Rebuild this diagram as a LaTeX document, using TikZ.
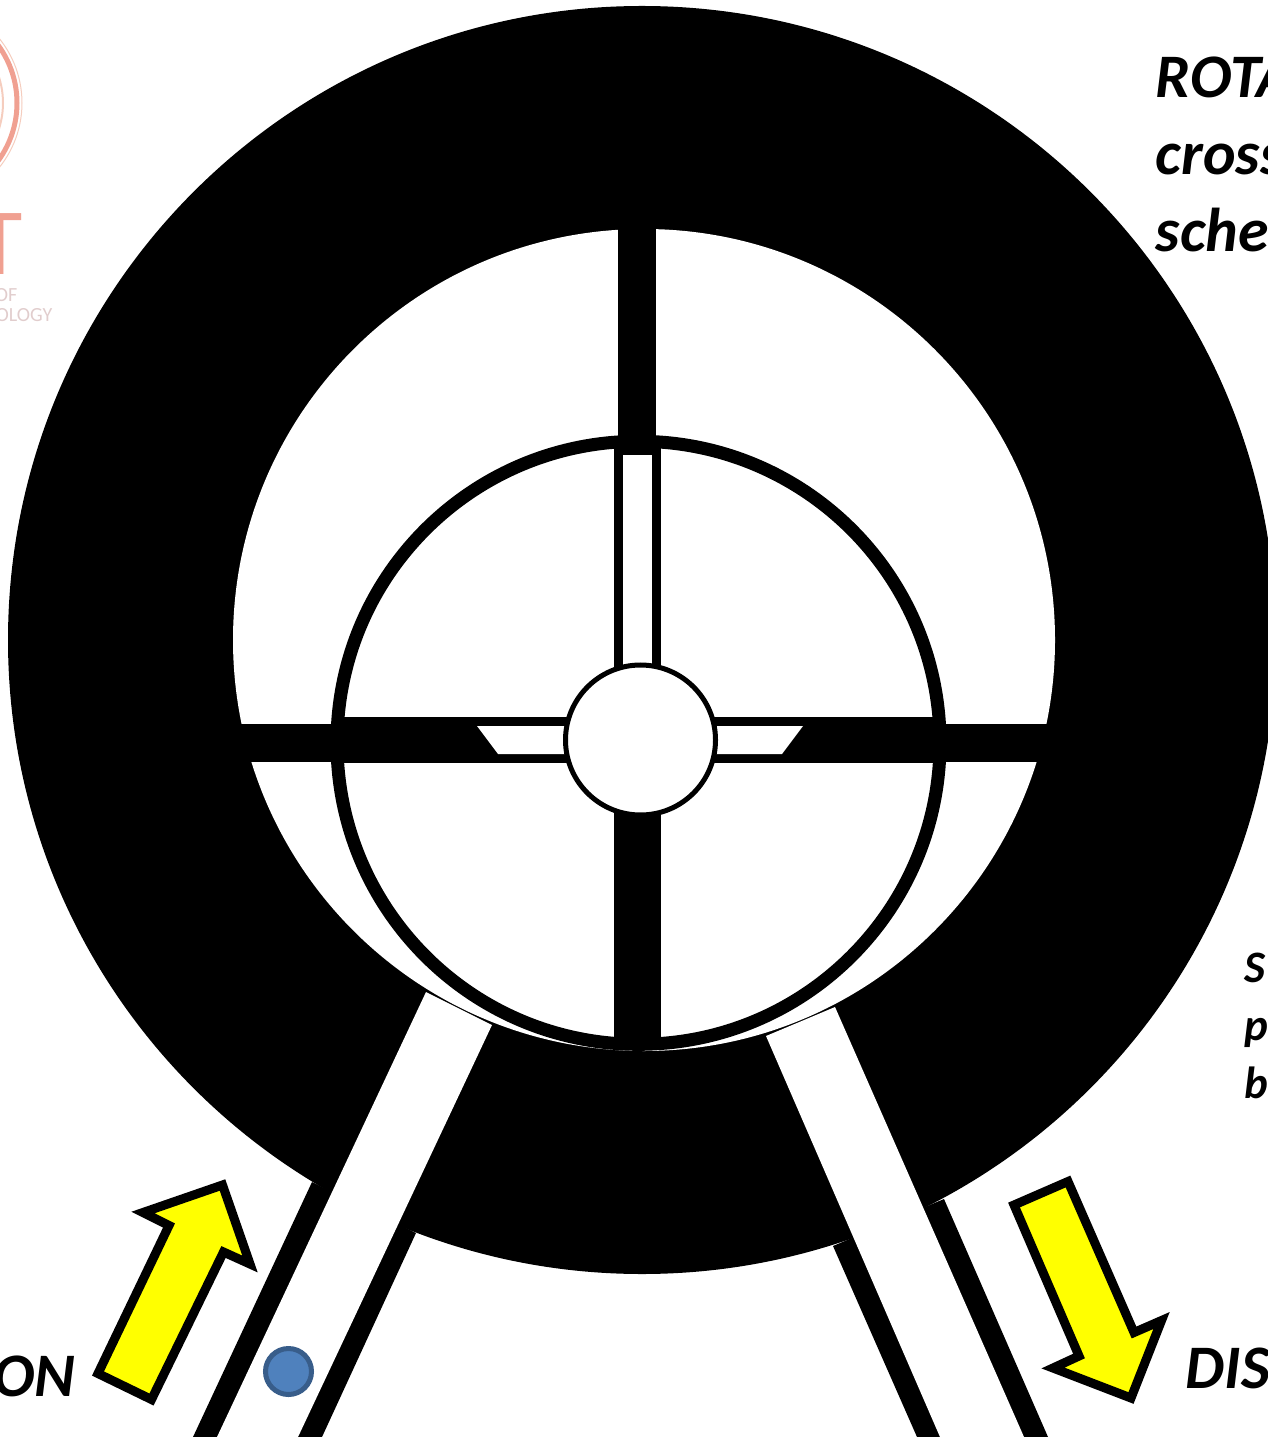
\documentclass[tikz,border=0pt]{standalone}
\usepackage{fontspec}
\setmainfont{Carlito}
\usepackage{tikz}
\definecolor{logopink}{RGB}{240,160,145}
\definecolor{logopale}{RGB}{245,205,190}
\definecolor{logogrey}{RGB}{225,205,205}
\definecolor{dotblue}{RGB}{79,129,189}
\definecolor{dotedge}{RGB}{56,93,138}
\definecolor{flowyellow}{RGB}{255,255,0}
\tikzset{
    bigtext/.style={font=\bfseries\itshape\fontsize{17.6}{21}\selectfont, inner sep=0pt},
    smalltext/.style={font=\bfseries\itshape\fontsize{12.8}{15}\selectfont, inner sep=0pt, anchor=base west},
    logotext/.style={font=\fontsize{5.7}{7}\selectfont, text=logogrey, inner sep=0pt, anchor=base east},
    flowarrow/.style={fill=flowyellow, draw=black, line width=0.09cm, miter limit=10},
}
\begin{document}
\begin{tikzpicture}[x=0.01cm,y=-0.01cm]
    \useasboundingbox (0,0) rectangle (1268,1437);
    \clip (0,0) rectangle (1268,1437);

    % logo behind the casing
    \draw[logopink, line width=0.05cm] (-81,103) circle (98);
    \draw[logopale, line width=0.01cm] (-81,103) circle (103);
    \draw[logopale, line width=0.02cm] (-81,103) circle (84);
    \node[font=\fontsize{27}{30}\selectfont, text=logopink, inner sep=0pt, anchor=base] (logot) at (0,275) {T};
    \node[logotext] (logoof) at (18,302) {OF};
    \node[logotext] (logoology) at (53,322) {OLOGY};

    % casing and bore
    \fill[black] (642,640) circle (634);
    \fill[white] (644,640) circle (411);

    % inlet and outlet ports
    \fill[black] (193,1437) -- (312,1182) -- (416,1233) -- (322,1437) -- cycle;
    \fill[black] (917,1437) -- (833,1246) -- (944,1199) -- (1048,1437) -- cycle;
    \fill[white] (217,1437) -- (426,992) -- (492,1025) -- (298,1437) -- cycle;
    \fill[white] (766,1036) -- (835,1007) -- (1024,1437) -- (940,1437) -- cycle;

    % vanes outside the rotor
    \fill[black] (618,225) rectangle (656,440);
    \fill[black] (225,724) rectangle (1065,762);

    % rotor
    \draw[black, fill=white, line width=0.13cm] (638.5,742.8) circle (301.5);
    \fill[black] (340,717) rectangle (940,763);
    \fill[black] (614,445) rectangle (661,1045);
    \fill[white] (623,455) rectangle (652,700);
    \fill[white] (477,726) -- (575,726) -- (575,754) -- (498,754) -- cycle;
    \fill[white] (803,726) -- (705,726) -- (705,754) -- (782,754) -- cycle;
    \draw[black, fill=white, line width=0.05cm] (640.5,740) circle (75);

    % arrows
    \draw[flowarrow] (98,1373.5) -- (151.5,1399.5) -- (223.5,1252) -- (250,1264)
        -- (222.5,1185) -- (143,1212.5) -- (169,1225.5) -- cycle;
    \draw[flowarrow] (1068,1181.5) -- (1014,1205) -- (1079,1356) -- (1053,1368)
        -- (1131,1398) -- (1161.5,1320.5) -- (1134,1332.5) -- cycle;
    \draw[fill=dotblue, draw=dotedge, line width=0.05cm] (288.5,1371.5) circle (23);

    % labels
    \foreach \y/\word/\tag in {98/ROTA/rota, 175/cross/cross, 252/sche/sche} {
        \node[bigtext, anchor=base west] (\tag) at (1155,\y) {\word};
    }
    \foreach \y/\word/\tag in {982/S/s, 1040/p/p, 1098/b/b} {
        \node[smalltext] (\tag) at (1244,\y) {\word};
    }
    \node[bigtext, anchor=base east] (on) at (76,1396) {ON};
    \node[bigtext, anchor=base west] (dis) at (1185,1388) {DIS};
\end{tikzpicture}
\end{document}
